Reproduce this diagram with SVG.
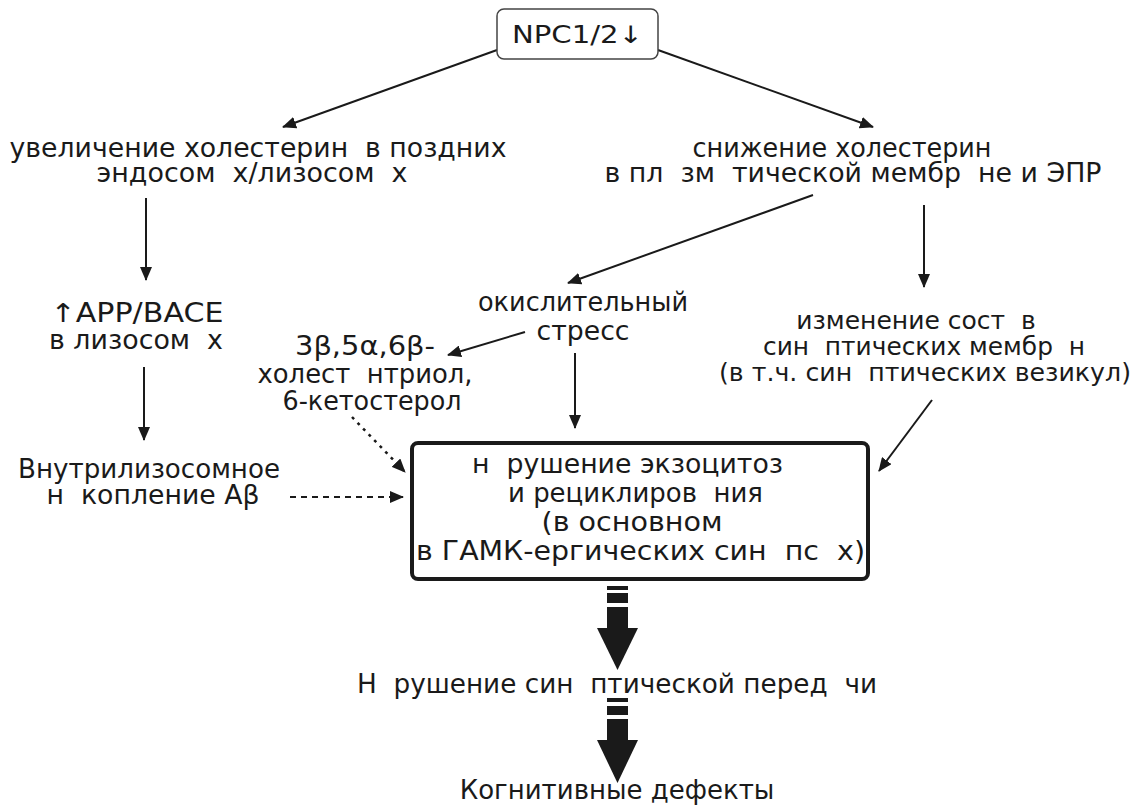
<svg xmlns="http://www.w3.org/2000/svg" width="1135" height="811" viewBox="0 0 1135 811">
<defs>
<marker id="ah" viewBox="0 0 14 12" refX="13" refY="6" markerWidth="14" markerHeight="12" markerUnits="userSpaceOnUse" orient="auto">
<path d="M0,0 L14,6 L0,12 Z" fill="#1a1a1a"/>
</marker>
<style>
text{font-family:"DejaVu Sans","Liberation Sans",sans-serif;font-size:26px;fill:#1a1a1a;text-anchor:middle;white-space:pre}
.ln{stroke:#1a1a1a;stroke-width:2;fill:none;marker-end:url(#ah)}
.dash{stroke-dasharray:6 5}
.dot{stroke-dasharray:3 5;stroke-width:2.5}
.big{fill:#1a1a1a}
.sm{font-size:25px}
</style>
</defs>
<rect width="1135" height="811" fill="#ffffff"/>
<g id="connectors">
<line class="ln" x1="497" y1="50" x2="283" y2="127"/>
<line class="ln" x1="658" y1="50" x2="873" y2="127"/>
<line class="ln" x1="146" y1="198" x2="146" y2="280"/>
<line class="ln" x1="144" y1="367" x2="144" y2="440"/>
<line class="ln" x1="813" y1="195" x2="568" y2="283"/>
<line class="ln" x1="924" y1="205" x2="924" y2="287"/>
<line class="ln" x1="525" y1="332" x2="448" y2="355"/>
<line class="ln" x1="575" y1="353" x2="575" y2="428"/>
<line class="ln" x1="932" y1="400" x2="879" y2="471"/>
<line class="ln dash" x1="290" y1="497" x2="403" y2="497"/>
<line class="ln dot" x1="352" y1="417" x2="405" y2="472"/>
<g id="thick1" class="big">
<rect x="607" y="586" width="21" height="4"/>
<rect x="607" y="593" width="21" height="10"/>
<rect x="607" y="607" width="21" height="22"/>
<polygon points="597,628 638,628 617.5,670"/>
</g>
<g id="thick2" class="big">
<rect x="607" y="698" width="21" height="4"/>
<rect x="607" y="706" width="21" height="9"/>
<rect x="607" y="719" width="21" height="22"/>
<polygon points="597,740 638,740 617.5,783"/>
</g>
</g>
<g id="npc">
<rect x="497" y="9" width="161" height="50" rx="7" fill="#fff" stroke="#444" stroke-width="1.5"/>
<text x="577.5" y="43" style="font-size:24px" textLength="131" lengthAdjust="spacingAndGlyphs">NPC1/2↓</text>
</g>
<g id="increase">
<text x="258" y="157" textLength="497" lengthAdjust="spacingAndGlyphs">увеличение холестерин  в поздних</text>
<text x="252" y="182" textLength="311" lengthAdjust="spacingAndGlyphs">эндосом  х/лизосом  х</text>
</g>
<g id="decrease">
<text x="842" y="157" textLength="299" lengthAdjust="spacingAndGlyphs">снижение холестерин</text>
<text x="853" y="182" textLength="497" lengthAdjust="spacingAndGlyphs">в пл  зм  тической мембр  не и ЭПР</text>
</g>
<g id="app">
<text x="137" y="322" textLength="173" lengthAdjust="spacingAndGlyphs">↑APP/BACE</text>
<text x="136" y="349" textLength="174" lengthAdjust="spacingAndGlyphs">в лизосом  х</text>
</g>
<g id="accum">
<text x="149" y="478" textLength="262" lengthAdjust="spacingAndGlyphs">Внутрилизосомное</text>
<text x="153" y="504" textLength="213" lengthAdjust="spacingAndGlyphs">н  копление Aβ</text>
</g>
<g id="oxstress">
<text x="583" y="311" textLength="210" lengthAdjust="spacingAndGlyphs">окислительный</text>
<text x="583" y="340" textLength="93" lengthAdjust="spacingAndGlyphs">стресс</text>
</g>
<g id="oxysterols">
<text x="365" y="355" textLength="140" lengthAdjust="spacingAndGlyphs">3β,5α,6β-</text>
<text x="365" y="383" textLength="215" lengthAdjust="spacingAndGlyphs">холест  нтриол,</text>
<text x="372" y="410" textLength="179" lengthAdjust="spacingAndGlyphs">6-кетостерол</text>
</g>
<g id="membranes">
<text class="sm" x="916" y="329">изменение сост  в</text>
<text class="sm" x="924" y="355" textLength="322" lengthAdjust="spacingAndGlyphs">син  птических мембр  н</text>
<text class="sm" x="925" y="381" textLength="412" lengthAdjust="spacingAndGlyphs">(в т.ч. син  птических везикул)</text>
</g>
<g id="exocytosis">
<rect x="412" y="443" width="456" height="136" rx="6" fill="#fff" stroke="#1a1a1a" stroke-width="4"/>
<text x="627.5" y="473" textLength="311" lengthAdjust="spacingAndGlyphs">н  рушение экзоцитоз</text>
<text x="635.5" y="502" textLength="255" lengthAdjust="spacingAndGlyphs">и рециклиров  ния</text>
<text x="632" y="531" textLength="181" lengthAdjust="spacingAndGlyphs">(в основном</text>
<text x="640.5" y="560" textLength="449" lengthAdjust="spacingAndGlyphs">в ГАМК-ергических син  пс  х)</text>
</g>
<g id="transmission">
<text x="617" y="693" textLength="520" lengthAdjust="spacingAndGlyphs">Н  рушение син  птической перед  чи</text>
</g>
<g id="cognitive">
<text x="617" y="799">Когнитивные дефекты</text>
</g>
</svg>
